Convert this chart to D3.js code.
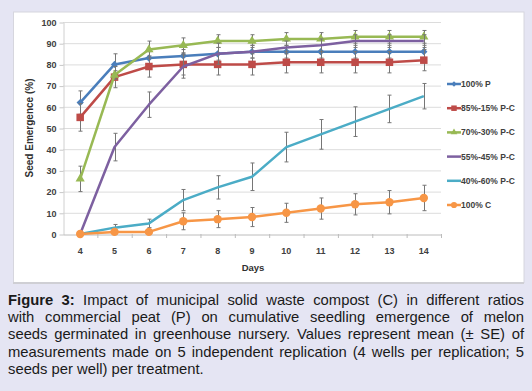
<!DOCTYPE html>
<html>
<head>
<meta charset="utf-8">
<script src="https://cdn.jsdelivr.net/npm/d3@7"></script>
<style>
  html, body { margin: 0; padding: 0; background: #e5e5f3; }
  #wrap { position: relative; width: 532px; height: 391px; overflow: hidden; background: #e5e5f3; }
  #chart { position: absolute; left: 0; top: 0; }
  #caption { position: absolute; left: 8px; top: 292px; width: 516px;
    font-family: "Liberation Sans", Arial, sans-serif; font-size: 14.8px; line-height: 17.2px; color: #1a1a1a; }
  #caption div { text-align: justify; text-align-last: justify; white-space: nowrap; }
  #caption div.last { text-align-last: left; }
</style>
</head>
<body>
<div id="wrap">
  <svg id="chart" width="532" height="285"></svg>
  <div id="caption"></div>
</div>
<script>
'use strict'

// days on the category axis
const days = ['4', '5', '6', '7', '8', '9', '10', '11', '12', '13', '14']
const yTicks = [0, 10, 20, 30, 40, 50, 60, 70, 80, 90, 100]

const seriesNames = ['100% P', '85%-15% P-C', '70%-30% P-C', '55%-45% P-C', '40%-60% P-C', '100% C']

// mean seed emergence (%)
const peat100 = [62, 80, 83, 84, 85, 86, 86, 86, 86, 86, 86]
const mix85 = [55, 74, 79, 80, 80, 80, 81, 81, 81, 81, 82]
const mix70 = [26, 75, 87, 89, 91, 91, 92, 92, 93, 93, 93]
const mix55 = [0, 41, 61, 79, 85, 86, 88, 89, 91, 91, 91]
const mix40 = [0, 3, 5, 16, 22, 27, 41, 47, 53, 59, 65]
const compost100 = [0, 1, 1, 6, 7, 8, 10, 12, 14, 15, 17]

// standard errors
const peat100Err = [5.5, 5, 3, 3, 3, 3, 3, 3, 3, 3, 3]
const mix85Err = [6.5, 5, 5, 5, 5, 5, 5, 5, 5, 5, 5]
const mix70Err = [6, 2, 4, 3.5, 3, 3, 3, 3, 3, 3, 3]
const mix55Err = [0, 6.5, 6, 5.5, 5, 3, 3, 3, 3, 3, 3]
const mix40Err = [0, 1.5, 2, 5, 5.5, 6.5, 7, 7, 7, 6.5, 6]
const compost100Err = [0, 1, 1, 4, 4, 4.5, 4.5, 5, 5, 5.5, 6]

const captionLines = [
	['Figure 3:', ' Impact of municipal solid waste compost (C) in different ratios'],
	['', 'with commercial peat (P) on cumulative seedling emergence of melon'],
	['', 'seeds germinated in greenhouse nursery. Values represent mean (\u00b1 SE) of'],
	['', 'measurements made on 5 independent replication (4 wells per replication; 5'],
	['', 'seeds per well) per treatment.']
]

const colors = ['#4a7ebb', '#be4b48', '#98b954', '#7d60a0', '#4bacc6', '#f79646']
const markers = ['diamond', 'square', 'triangle', 'none', 'none', 'circle']

const series = [peat100, mix85, mix70, mix55, mix40, compost100].map(function(vals, i){
	const errs = [peat100Err, mix85Err, mix70Err, mix55Err, mix40Err, compost100Err][i]
	return {
		name: seriesNames[i],
		color: colors[i],
		marker: markers[i],
		points: vals.map(function(v, j){ return {day: days[j], value: v, err: errs[j]} })
	}
})

const svg = d3.select('#chart')
const font = '"Liberation Sans", Arial, sans-serif'

// white panel
svg.append('rect').attr('x', 13.5).attr('y', 12).attr('width', 510.5).attr('height', 270.5)
	.attr('fill', '#ffffff').attr('stroke', '#d6d6de').attr('stroke-width', 1)
svg.append('line').attr('x1', 13).attr('x2', 524).attr('y1', 283).attr('y2', 283)
	.attr('stroke', '#cfcfd4').attr('stroke-width', 2)

const plot = {left: 63, right: 441, top: 22, bottom: 234}

const x = d3.scaleBand().domain(days).range([plot.left, plot.right])
const y = d3.scaleLinear().domain([0, 100]).range([plot.bottom, plot.top])
const cx = function(d){ return x(d) + x.bandwidth() / 2 }

// gridlines
svg.append('g').selectAll('line').data(yTicks.filter(function(t){ return t > 0 }))
	.enter().append('line')
	.attr('x1', plot.left).attr('x2', plot.right)
	.attr('y1', function(d){ return y(d) + 0.5 }).attr('y2', function(d){ return y(d) + 0.5 })
	.attr('stroke', '#dcdcdc').attr('stroke-width', 1)

// y axis
const yAxis = svg.append('g').attr('transform', 'translate(' + (plot.left + 0.5) + ',0.5)')
	.call(d3.axisLeft(y).tickValues(yTicks).tickSize(4).tickSizeOuter(0))
yAxis.select('.domain').attr('stroke', '#d0d0d0')
yAxis.selectAll('.tick line').attr('stroke', '#c8c8c8')
yAxis.selectAll('.tick text').attr('font-family', font).attr('font-size', 9).attr('font-weight', 'bold')
	.attr('fill', '#404040').attr('x', -7)

// x axis
const xAxis = svg.append('g').attr('transform', 'translate(0,' + (plot.bottom + 0.5) + ')')
	.call(d3.axisBottom(x).tickSize(0).tickSizeOuter(0))
xAxis.select('.domain').attr('stroke', '#bcbcbc')
xAxis.selectAll('.tick text').attr('font-family', font).attr('font-size', 9).attr('font-weight', 'bold')
	.attr('fill', '#404040').attr('dy', 0).attr('y', 19)
// tick marks between categories
svg.append('g').selectAll('line').data(days.slice(1).concat(['end']))
	.enter().append('line')
	.attr('x1', function(d){ return d == 'end' ? plot.right + 0.5 : x(d) + 0.5 })
	.attr('x2', function(d){ return d == 'end' ? plot.right + 0.5 : x(d) + 0.5 })
	.attr('y1', plot.bottom).attr('y2', plot.bottom + 4)
	.attr('stroke', '#bcbcbc')

// axis titles
svg.append('text').attr('x', 253).attr('y', 271).attr('text-anchor', 'middle')
	.attr('font-family', font).attr('font-size', 9.5).attr('font-weight', 'bold').attr('fill', '#303030')
	.text('Days')
svg.append('text').attr('transform', 'translate(33,128) rotate(-90)').attr('text-anchor', 'middle')
	.attr('font-family', font).attr('font-size', 10).attr('font-weight', 'bold').attr('fill', '#303030')
	.text('Seed Emergence (%)')

function drawMarker(g, type, color, size){
	if (type == 'circle'){
		g.append('circle').attr('r', size * 0.56).attr('fill', color)
	} else if (type == 'square'){
		g.append('rect').attr('x', -size / 2).attr('y', -size / 2).attr('width', size).attr('height', size).attr('fill', color)
	} else if (type == 'diamond'){
		g.append('path').attr('d', d3.symbol(d3.symbolDiamond2, size * size * 0.6)()).attr('fill', color)
	} else if (type == 'triangle'){
		g.append('path').attr('d', d3.symbol(d3.symbolTriangle, size * size * 0.65)()).attr('fill', color)
	}
}

const line = d3.line().x(function(d){ return cx(d.day) }).y(function(d){ return y(d.value) })

series.forEach(function(s){
	const g = svg.append('g')
	// error bars
	const eb = g.append('g').attr('stroke', '#767676').attr('stroke-width', 1)
	s.points.filter(function(p){ return p.err > 0 }).forEach(function(p){
		const px = Math.round(cx(p.day)) + 0.5
		eb.append('line').attr('x1', px).attr('x2', px).attr('y1', y(p.value + p.err)).attr('y2', y(p.value - p.err))
		eb.append('line').attr('x1', px - 2).attr('x2', px + 2).attr('y1', y(p.value + p.err)).attr('y2', y(p.value + p.err))
		eb.append('line').attr('x1', px - 2).attr('x2', px + 2).attr('y1', y(p.value - p.err)).attr('y2', y(p.value - p.err))
	})
	g.append('path').datum(s.points).attr('d', line).attr('fill', 'none')
		.attr('stroke', s.color).attr('stroke-width', 2.5).attr('stroke-linejoin', 'round')
	s.points.forEach(function(p){
		const m = g.append('g').attr('transform', 'translate(' + cx(p.day) + ',' + y(p.value) + ')')
		drawMarker(m, s.marker, s.color, 7.5)
	})
})

// legend
const legendY = d3.scalePoint().domain(seriesNames).range([84, 205])
const legend = svg.append('g')
series.forEach(function(s){
	const ly = legendY(s.name)
	legend.append('line').attr('x1', 447).attr('x2', 461).attr('y1', ly).attr('y2', ly)
		.attr('stroke', s.color).attr('stroke-width', 2.5)
	const m = legend.append('g').attr('transform', 'translate(454,' + ly + ')')
	drawMarker(m, s.marker, s.color, 5.5)
	legend.append('text').attr('x', 461).attr('y', ly + 3).attr('font-family', font)
		.attr('font-size', 8.5).attr('font-weight', 'bold').attr('fill', '#404040').text(s.name)
})

// caption
const cap = d3.select('#caption')
captionLines.forEach(function(l, i){
	const div = cap.append('div').classed('last', i == captionLines.length - 1)
	if (l[0]) div.append('b').text(l[0])
	div.append('span').text(l[1])
})
</script>
</body>
</html>
